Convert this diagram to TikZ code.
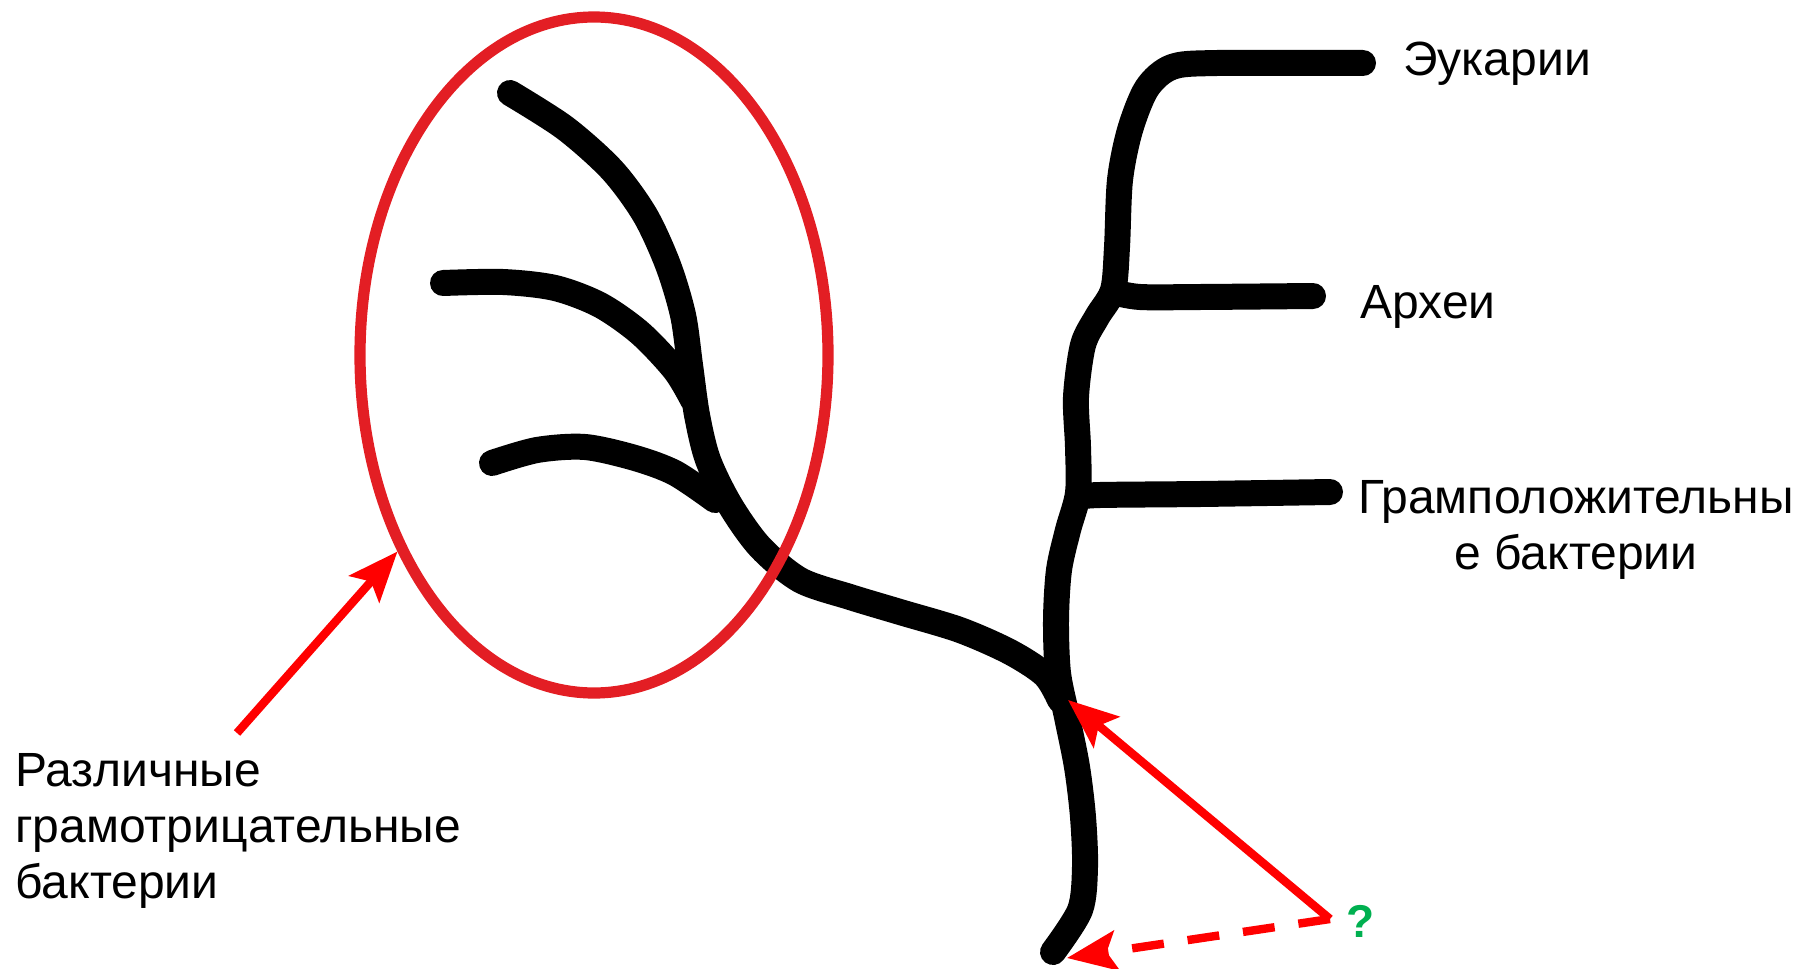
\documentclass[tikz,border=0pt]{standalone}
\usepackage{fontspec}
\setmainfont{Liberation Sans}
\usetikzlibrary{arrows.meta,shapes.geometric}
\definecolor{ovalred}{HTML}{E31E24}
\definecolor{arrowred}{HTML}{FF0000}
\definecolor{qgreen}{HTML}{00B050}

\begin{document}
\begin{tikzpicture}[x=0.5pt,y=-0.5pt,
  branch/.style={line width=13pt,line cap=round,line join=round},
  label/.style={inner sep=0pt,font=\fontsize{24pt}{28pt}\selectfont},
  pointer/.style={arrowred,line width=4.2pt,-{Stealth[length=25pt,width=20pt,inset=5pt]}}]
  \useasboundingbox (0,0) rectangle (1810,969);

  % left tree (gram-negative group)
  \draw[branch] plot[smooth] coordinates {(510,93) (565,128) (612,170) (645,215) (668,265)
    (683,315) (690,365) (697,415) (708,460) (730,505) (760,547) (800,580)
    (850,597) (900,612) (960,630) (1010,652) (1045,675) (1060,700)};
  \draw[branch] plot[smooth] coordinates {(443,283) (503,282) (555,288) (600,305) (640,333) (675,370) (693,400)};
  \draw[branch] plot[smooth] coordinates {(492,463) (537,450) (585,447) (635,458) (675,473) (715,500)};

  % right tree
  \draw[branch] plot[smooth] coordinates {(1053,952) (1080,910) (1085,867) (1083,817) (1077,767)
    (1067,717) (1058,673) (1056,620) (1059,570) (1068,530) (1078,493) (1078,447) (1076,397)
    (1083,345) (1097,317) (1113,290) (1117,247) (1120,180) (1130,130) (1147,88) (1172,67) (1217,63) (1363,63)};
  \draw[branch] plot[smooth] coordinates {(1113,292) (1140,297) (1200,297) (1313,296)};
  \draw[branch] plot[smooth] coordinates {(1078,497) (1100,495) (1200,494) (1330,492)};

  \node[draw=ovalred,line width=5.6pt,ellipse,minimum width=234pt,minimum height=338pt,inner sep=0pt] (oval) at (594,355) {};

  % labels
  \node[label,anchor=base west] (eukar) at (1403,75) {Эукарии};
  \node[label,anchor=base west] (arch) at (1360,318) {Археи};
  \node[label,align=center,anchor=north] (grampos) at (1576,480) {Грамположительны\\е бактерии};
  \node[label,align=left,anchor=north west] (gramneg) at (15,753) {Различные\\грамотрицательные\\бактерии};
  \node[inner sep=0pt,text=qgreen,font=\fontsize{23pt}{26pt}\selectfont\bfseries] (qmark) at (1361,921) {?};

  % pointers
  \coordinate (negfrom) at (237,733);
  \coordinate (qfrom) at (1330,919);
  \coordinate (fork) at (1068,700);
  \coordinate (root) at (1067,958);
  \draw[pointer] (negfrom) -- (oval.225);
  \draw[pointer] (qfrom) -- (fork);
  \draw[pointer,dash pattern=on 16pt off 12pt] (qfrom) -- (root);
\end{tikzpicture}
\end{document}
